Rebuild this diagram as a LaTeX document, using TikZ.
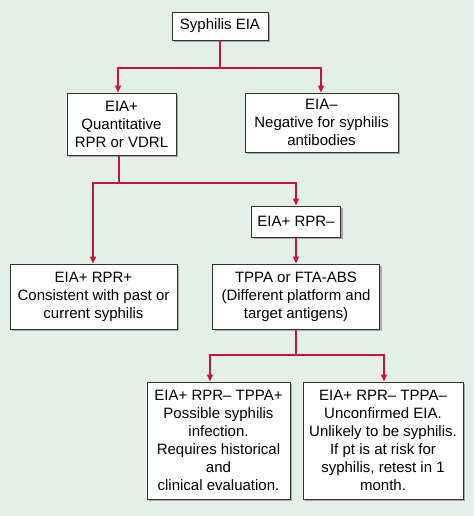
\documentclass[tikz,border=0pt]{standalone}
\usepackage{fontspec}
\setmainfont{Liberation Sans}
\usetikzlibrary{arrows.meta,shadows}
\definecolor{bgc}{RGB}{227,240,232}
\definecolor{redc}{RGB}{200,20,60}
\tikzset{
  box/.style={draw=black!80, line width=0.9pt, fill=white, align=center, inner sep=0pt,
    font=\fontsize{15}{18}\selectfont,
    drop shadow={shadow xshift=2pt, shadow yshift=-2pt, fill=black!60}},
  conn/.style={draw=redc, line width=1.6pt},
  arr/.style={conn, -{Triangle[length=7pt,width=6pt]}}
}
\begin{document}
\begin{tikzpicture}[x=1pt,y=-1pt]
\fill[bgc] (0,0) rectangle (474,516);
\useasboundingbox (0,0) rectangle (474,516);
\node[box, minimum width=96pt, minimum height=28pt] (top) at (220,26) {Syphilis EIA};
\node[box, minimum width=109pt, minimum height=62pt] (eiap) at (121.5,124) {EIA+\\Quantitative\\RPR or VDRL};
\node[box, minimum width=153pt, minimum height=59pt] (eian) at (321.5,122.5) {EIA\textendash\\Negative for syphilis\\antibodies};
\node[box, minimum width=89pt, minimum height=31pt] (rprn) at (296,221.5) {EIA+ RPR\textendash};
\node[box, minimum width=167pt, minimum height=65pt] (rprp) at (93.5,296.5) {EIA+ RPR+\\Consistent with past or\\current syphilis};
\node[box, minimum width=167pt, minimum height=65pt] (tppa) at (296,296.5) {TPPA or FTA-ABS\\(Different platform and\\target antigens)};
\node[box, minimum width=143pt, minimum height=117pt] (bl) at (218.5,440.5) {EIA+ RPR\textendash\ TPPA+\\Possible syphilis\\infection.\\Requires historical\\and\\clinical evaluation.};
\node[box, minimum width=160pt, minimum height=117pt] (br) at (383,440.5) {EIA+ RPR\textendash\ TPPA\textendash\\Unconfirmed EIA.\\Unlikely to be syphilis.\\If pt is at risk for\\syphilis, retest in 1\\month.};
\coordinate (j1) at (220,68);
\coordinate (j2) at (119,183);
\coordinate (j3) at (296,355);
\draw[conn] (top.south) -- (j1);
\draw[arr] (j1) -| ([xshift=-3.5pt]eiap.north);
\draw[arr] (j1) -| ([xshift=-0.5pt]eian.north);
\draw[conn] ([xshift=-2.5pt]eiap.south) -- (j2);
\draw[arr] (j2) -| ([xshift=-0.5pt]rprp.north);
\draw[arr] (j2) -| (rprn.north);
\draw[arr] (rprn.south) -- (tppa.north);
\draw[conn] (tppa.south) -- (j3);
\draw[arr] (j3) -| ([xshift=-8.5pt]bl.north);
\draw[arr] (j3) -| ([xshift=1pt]br.north);
\end{tikzpicture}
\end{document}
